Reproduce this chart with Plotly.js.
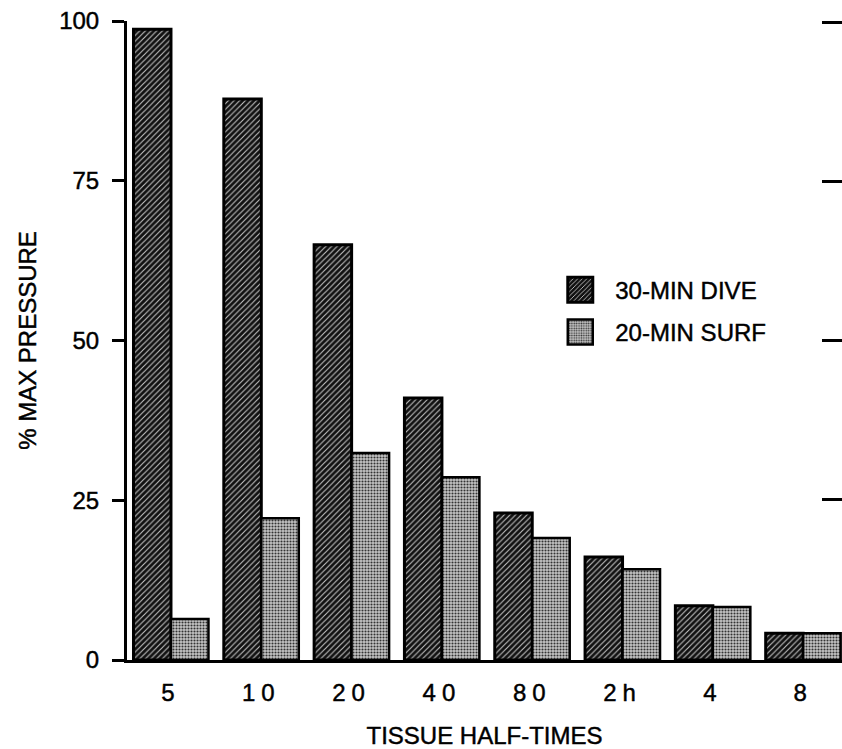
<!DOCTYPE html>
<html><head><meta charset="utf-8">
<script src="https://cdn.plot.ly/plotly-3.0.1.min.js"></script>
<style>
html,body{margin:0;padding:0;background:#fff;}
#chart{width:842px;height:749px;}
.xtick text{letter-spacing:6px;}
#chart text{stroke:#000;stroke-width:0.45px;}
</style>
</head><body><div id="chart"></div>
<script>
const halfTimes = ['5','10','20','40','80','2h','4','8'];
const diveValues = [98.7, 87.8, 65, 41, 23, 16.1, 8.5, 4.2];
const surfValues = [6.4, 22.2, 32.4, 28.6, 19.1, 14.2, 8.3, 4.2];
const yTickVals = [0, 25, 50, 75, 100];
const rightTickVals = [25, 50, 75, 100];
const seriesNames = ['30-MIN DIVE', '20-MIN SURF'];
const xTitle = 'TISSUE HALF-TIMES';
const yTitle = '% MAX PRESSURE';

const FONT = 'Liberation Sans, Arial, Helvetica, sans-serif';
const INK = '#000';

const traces = [
  {
    type: 'bar', x: halfTimes, y: diveValues, name: seriesNames[0], legendgroup: 'a',
    marker: {
      color: '#111',
      line: {color: '#000', width: 3},
      pattern: {shape: '/', fgcolor: '#c0c0c0', bgcolor: '#111', size: 4, solidity: 0.28}
    }
  },
  {
    type: 'bar', x: halfTimes, y: surfValues, name: seriesNames[1], legendgroup: 'b',
    marker: {
      color: '#bcbcbc',
      line: {color: '#000', width: 2.5},
      pattern: {shape: '.', fgcolor: '#333', bgcolor: '#c6c6c6', size: 3, solidity: 0.4}
    }
  },
  {
    type: 'scatter', x: [], y: [], yaxis: 'y2', showlegend: false, hoverinfo: 'skip'
  }
];

const layout = {
  width: 842, height: 749,
  margin: {l: 127, r: 0, t: 21, b: 89},
  paper_bgcolor: '#fff', plot_bgcolor: '#fff',
  font: {family: FONT, color: INK, size: 24},
  barmode: 'group', bargap: 0.17, bargroupgap: 0,
  showlegend: true,
  legend: {
    x: 0.585, y: 0.614, xanchor: 'left', yanchor: 'top',
    font: {family: FONT, size: 24, color: INK},
    itemwidth: 60, traceorder: 'grouped', tracegroupgap: 8,
    bgcolor: 'rgba(0,0,0,0)', borderwidth: 0
  },
  xaxis: {
    type: 'category', range: [-0.487, 7.43],
    showline: true, linecolor: '#000', linewidth: 3,
    ticks: '', showgrid: false, zeroline: false,
    tickfont: {family: FONT, size: 24, color: INK},
    ticklabelstandoff: 9,
    title: {text: xTitle, font: {family: FONT, size: 24, color: INK}, standoff: 24}
  },
  yaxis: {
    range: [0, 100], tickvals: yTickVals,
    showline: true, linecolor: '#000', linewidth: 3,
    ticks: 'outside', ticklen: 12, tickwidth: 3, tickcolor: '#000',
    showgrid: false, zeroline: false,
    tickfont: {family: FONT, size: 24, color: INK},
    ticklabelstandoff: 8,
    title: {text: yTitle, font: {family: FONT, size: 24, color: INK}, standoff: 16}
  },
  yaxis2: {
    overlaying: 'y', side: 'right', anchor: 'x',
    range: [-0.25, 100.25], tickvals: rightTickVals,
    ticks: 'inside', ticklen: 20, tickwidth: 3, tickcolor: '#000',
    showticklabels: false, showline: false, showgrid: false, zeroline: false
  }
};

Plotly.newPlot('chart', traces, layout, {staticPlot: true, displayModeBar: false}).then(function () {
  document.querySelectorAll('.legend .legendpoints path').forEach(function (p) {
    p.setAttribute('d', 'M12.5,12.5H-12.5V-12.5H12.5Z');
  });
});
</script>
</body></html>
